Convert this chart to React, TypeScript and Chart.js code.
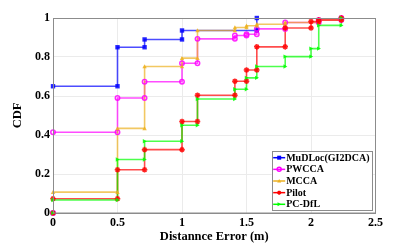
import React, { useEffect, useRef } from "react";
import { Chart, registerables } from "chart.js";

Chart.register(...registerables);

const seriesNames = ["MuDLoc(GI2DCA)", "PWCCA", "MCCA", "Pilot", "PC-DfL"];
const seriesColors = ["#0000ff", "#ff00ff", "#EDB120", "#ff0000", "#00ff00"];
const seriesMarkers = ["rect", "circle", "triangle", "star", "triangleRight"];

const mudlocX = [0, 0.5, 0.71, 1.0, 1.58];
const mudlocY = [0.65, 0.85, 0.89, 0.936, 1.0];
const pwccaX = [0, 0.5, 0.71, 1.0, 1.12, 1.41, 1.5, 1.58, 1.8, 2.06, 2.235];
const pwccaY = [0.414, 0.59, 0.673, 0.768, 0.893, 0.91, 0.917, 0.944, 0.977, 0.99, 1.0];
const mccaX = [0, 0.5, 0.71, 1.0, 1.12, 1.41, 1.5, 1.58, 1.8, 2.06, 2.235];
const mccaY = [0.107, 0.434, 0.751, 0.794, 0.936, 0.951, 0.96, 0.968, 0.977, 0.99, 1.0];
const pilotX = [0, 0.5, 0.71, 1.0, 1.12, 1.41, 1.5, 1.58, 1.8, 2.0, 2.06, 2.235];
const pilotY = [0.073, 0.222, 0.325, 0.469, 0.604, 0.676, 0.733, 0.852, 0.949, 0.982, 0.99, 1.0];
const pcdflX = [0, 0.5, 0.71, 1.0, 1.12, 1.41, 1.5, 1.58, 1.8, 2.0, 2.06, 2.235];
const pcdflY = [0.067, 0.274, 0.368, 0.45, 0.585, 0.635, 0.693, 0.751, 0.802, 0.843, 0.962, 1.0];

const xTicks = [0, 0.5, 1, 1.5, 2, 2.5];
const xTickLabels = ["0", "0.5", "1", "1.5", "2", "2.5"];
const yTicks = [0, 0.2, 0.4, 0.6, 0.8, 1];
const yTickLabels = ["0", "0.2", "0.4", "0.6", "0.8", "1"];

const FONT = '"Liberation Serif", "Times New Roman", serif';

function stairPoints(xs: number[], ys: number[]) {
  const pts: { x: number; y: number }[] = [];
  let prev = 0;
  for (let i = 0; i < xs.length; i++) {
    pts.push({ x: xs[i], y: prev });
    pts.push({ x: xs[i], y: ys[i] });
    prev = ys[i];
  }
  return pts;
}

function withAlpha(hex: string, a: number) {
  const r = parseInt(hex.slice(1, 3), 16);
  const g = parseInt(hex.slice(3, 5), 16);
  const b = parseInt(hex.slice(5, 7), 16);
  return `rgba(${r},${g},${b},${a})`;
}

function drawMarker(ctx: CanvasRenderingContext2D, style: string, x: number, y: number, r: number, color: string) {
  ctx.save();
  ctx.fillStyle = color;
  ctx.strokeStyle = color;
  ctx.lineWidth = 1.5;
  ctx.beginPath();
  if (style === "rect") {
    ctx.fillRect(x - r, y - r, 2 * r, 2 * r);
  } else if (style === "circle") {
    ctx.arc(x, y, r, 0, Math.PI * 2);
    ctx.stroke();
  } else if (style === "triangle") {
    ctx.moveTo(x, y - r);
    ctx.lineTo(x + r, y + r * 0.8);
    ctx.lineTo(x - r, y + r * 0.8);
    ctx.closePath();
    ctx.fill();
  } else if (style === "star") {
    ctx.moveTo(x - r, y);
    ctx.lineTo(x + r, y);
    ctx.moveTo(x, y - r);
    ctx.lineTo(x, y + r);
    ctx.moveTo(x - r * 0.7, y - r * 0.7);
    ctx.lineTo(x + r * 0.7, y + r * 0.7);
    ctx.moveTo(x - r * 0.7, y + r * 0.7);
    ctx.lineTo(x + r * 0.7, y - r * 0.7);
    ctx.stroke();
  } else if (style === "triangleRight") {
    ctx.moveTo(x + r, y);
    ctx.lineTo(x - r * 0.8, y - r);
    ctx.lineTo(x - r * 0.8, y + r);
    ctx.closePath();
    ctx.fill();
  }
  ctx.restore();
}

const frameAndLegend = {
  id: "frameAndLegend",
  afterDatasetsDraw(chart: any) {
    const { ctx, chartArea } = chart;
    ctx.save();
    ctx.strokeStyle = "#8c8c8c";
    ctx.lineWidth = 1;
    ctx.strokeRect(chartArea.left + 0.5, chartArea.top + 0.5, chartArea.right - chartArea.left - 0.5, chartArea.bottom - chartArea.top - 0.5);
    ctx.restore();
  },
  afterDraw(chart: any) {
    const { ctx, chartArea } = chart;
    ctx.save();
    ctx.font = `bold 10px ${FONT}`;
    let maxW = 0;
    seriesNames.forEach((n) => (maxW = Math.max(maxW, ctx.measureText(n).width)));
    const rowH = 11.65;
    const right = chartArea.right - 3.5;
    const left = right - (maxW + 17);
    const top = chartArea.bottom - 62;
    const bottom = top + 59;
    ctx.fillStyle = "#ffffff";
    ctx.fillRect(left, top, right - left, bottom - top);
    ctx.strokeStyle = "#8c8c8c";
    ctx.lineWidth = 1;
    ctx.strokeRect(Math.round(left) + 0.5, Math.round(top) + 0.5, Math.round(right - left), Math.round(bottom - top));
    seriesNames.forEach((n, i) => {
      const cy = top + 6.7 + i * rowH;
      ctx.strokeStyle = seriesColors[i];
      ctx.lineWidth = 1.5;
      ctx.beginPath();
      ctx.moveTo(left + 1.5, cy);
      ctx.lineTo(left + 13.5, cy);
      ctx.stroke();
      drawMarker(ctx, seriesMarkers[i], left + 7.5, cy, 2, seriesColors[i]);
      ctx.fillStyle = "#000000";
      ctx.textBaseline = "middle";
      ctx.textAlign = "left";
      ctx.fillText(n, left + 14.5, cy + 0.5);
    });
    ctx.restore();
  },
};

const markerPlugin = {
  id: "customMarkers",
  afterDatasetsDraw(chart: any) {
    const { ctx } = chart;
    ctx.save();
    ctx.beginPath();
    ctx.rect(chart.chartArea.left - 4, chart.chartArea.top - 4, chart.chartArea.right - chart.chartArea.left + 8, chart.chartArea.bottom - chart.chartArea.top + 8);
    ctx.clip();
    const metas = chart.getSortedVisibleDatasetMetas().slice().reverse();
    metas.forEach((meta: any) => {
      const i = meta.index;
      meta.data.forEach((pt: any) => {
        drawMarker(ctx, seriesMarkers[i], pt.x, pt.y, seriesMarkers[i] === "star" ? 2.8 : 2.2, withAlpha(seriesColors[i], 0.85));
      });
    });
    ctx.restore();
  },
};

export default function App() {
  const ref = useRef<HTMLCanvasElement | null>(null);
  useEffect(() => {
    if (!ref.current) return;
    const xsList = [mudlocX, pwccaX, mccaX, pilotX, pcdflX];
    const ysList = [mudlocY, pwccaY, mccaY, pilotY, pcdflY];
    const datasets = seriesNames.map((name, i) => ({
      label: name,
      data: stairPoints(xsList[i], ysList[i]),
      borderColor: withAlpha(seriesColors[i], 0.7),
      backgroundColor: seriesColors[i],
      borderWidth: 1.6,
      pointRadius: 0,
      tension: 0,
      fill: false,
      order: seriesNames.length - 1 - i,
    }));
    const chart = new Chart(ref.current, {
      type: "line",
      data: { datasets },
      options: {
        animation: false,
        responsive: false,
        maintainAspectRatio: false,
        layout: { padding: { top: 18, right: 39.5, left: 0, bottom: 0 } },
        plugins: { legend: { display: false }, tooltip: { enabled: false } },
        scales: {
          x: {
            type: "linear",
            min: 0,
            max: 2.5,
            afterBuildTicks: (s: any) => {
              s.ticks = xTicks.map((v) => ({ value: v }));
            },
            afterFit: (s: any) => {
              s.height = 31;
            },
            ticks: {
              callback: (v: any) => {
                const k = xTicks.indexOf(Number(v));
                return k >= 0 ? xTickLabels[k] : "";
              },
              font: { family: FONT, weight: "bold", size: 12 },
              color: "#000000",
              padding: 3,
              maxRotation: 0,
              autoSkip: false,
            },
            grid: { color: "#ebebeb", drawTicks: false },
            border: { color: "#8c8c8c" },
            title: {
              display: true,
              text: "Distannce Error (m)",
              font: { family: FONT, weight: "bold", size: 12.5 },
              color: "#000000",
              padding: { top: 0, bottom: 0 },
            },
          },
          y: {
            type: "linear",
            min: 0,
            max: 1,
            afterBuildTicks: (s: any) => {
              s.ticks = yTicks.map((v) => ({ value: v }));
            },
            afterFit: (s: any) => {
              s.width = 53;
            },
            ticks: {
              callback: (v: any) => {
                const k = yTicks.findIndex((t) => Math.abs(t - Number(v)) < 1e-9);
                return k >= 0 ? yTickLabels[k] : "";
              },
              font: { family: FONT, weight: "bold", size: 12 },
              color: "#000000",
              padding: 3,
              autoSkip: false,
            },
            grid: { color: "#ebebeb", drawTicks: false },
            border: { color: "#8c8c8c" },
            title: {
              display: true,
              text: "CDF",
              font: { family: FONT, weight: "bold", size: 12.5 },
              color: "#000000",
              padding: { top: 10, bottom: 0 },
            },
          },
        },
      },
      plugins: [markerPlugin, frameAndLegend],
    } as any);
    return () => chart.destroy();
  }, []);
  return (
    <div style={{ position: "absolute", left: 0, top: 0, width: 415, height: 244, background: "#ffffff" }}>
      <canvas ref={ref} width={415} height={244} style={{ display: "block" }} />
    </div>
  );
}
